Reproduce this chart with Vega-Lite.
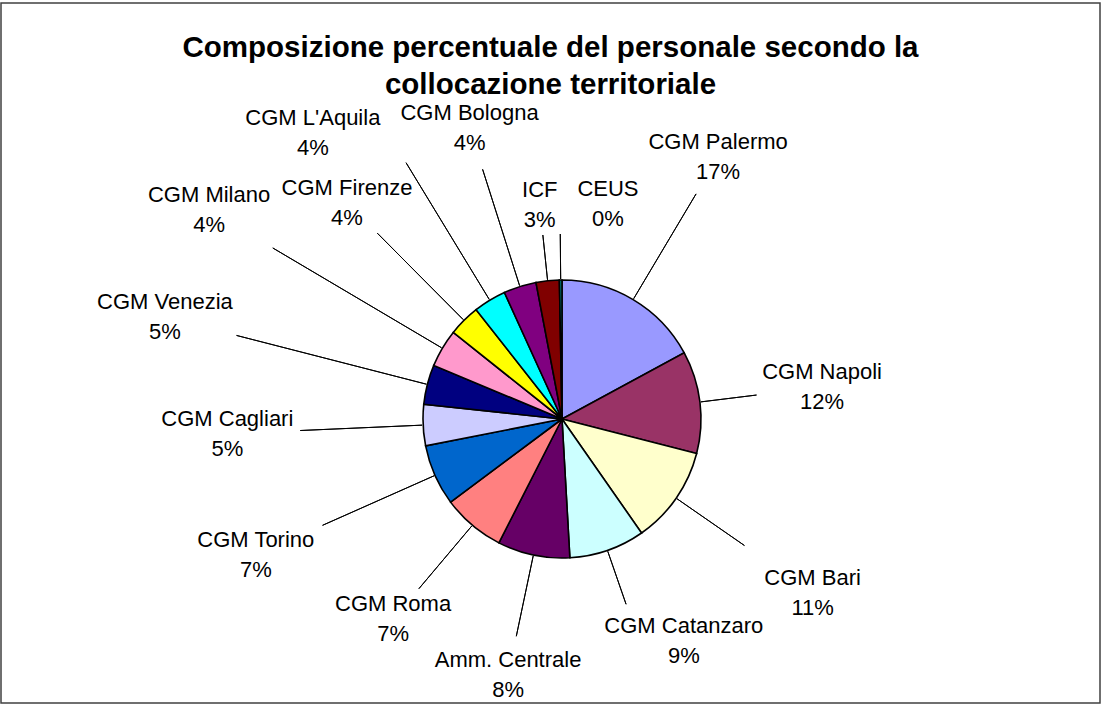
{
  "$schema": "https://vega.github.io/schema/vega-lite/v6.json",
  "width": 1099,
  "height": 700,
  "autosize": "none",
  "padding": {"left": 1, "top": 3, "right": 1, "bottom": 1},
  "background": "white",
  "view": {"stroke": "#404040", "strokeWidth": 1.5, "fill": "white"},
  "config": {
    "view": {"stroke": "#404040", "strokeWidth": 1.5},
    "font": "Liberation Sans"
  },
  "title": {
    "text": ["Composizione percentuale del personale secondo la", "collocazione territoriale"],
    "font": "Liberation Sans",
    "fontSize": 29.5,
    "fontWeight": "bold",
    "color": "black",
    "anchor": "middle",
    "lineHeight": 37,
    "baseline": "alphabetic",
    "offset": -52,
    "dy": 88
  },
  "datasets": {
    "slices": [
      {"idx": 0, "name": "CGM Palermo", "value": 0.171},
      {"idx": 1, "name": "CGM Napoli", "value": 0.119},
      {"idx": 2, "name": "CGM Bari", "value": 0.113},
      {"idx": 3, "name": "CGM Catanzaro", "value": 0.088},
      {"idx": 4, "name": "Amm. Centrale", "value": 0.084},
      {"idx": 5, "name": "CGM Roma", "value": 0.073},
      {"idx": 6, "name": "CGM Torino", "value": 0.071},
      {"idx": 7, "name": "CGM Cagliari", "value": 0.048},
      {"idx": 8, "name": "CGM Venezia", "value": 0.046},
      {"idx": 9, "name": "CGM Milano", "value": 0.044},
      {"idx": 10, "name": "CGM Firenze", "value": 0.037},
      {"idx": 11, "name": "CGM L'Aquila", "value": 0.038},
      {"idx": 12, "name": "CGM Bologna", "value": 0.038},
      {"idx": 13, "name": "ICF", "value": 0.027},
      {"idx": 14, "name": "CEUS", "value": 0.003}
    ],
    "leaders": [
      {"k": 0, "name": "CGM Palermo", "part": "h", "v": 0.0855},
      {"k": 1, "name": "CGM Palermo", "part": "m", "v": 0},
      {"k": 2, "name": "CGM Palermo", "part": "h", "v": 0.0855},
      {"k": 3, "name": "CGM Napoli", "part": "h", "v": 0.0595},
      {"k": 4, "name": "CGM Napoli", "part": "m", "v": 0},
      {"k": 5, "name": "CGM Napoli", "part": "h", "v": 0.0595},
      {"k": 6, "name": "CGM Bari", "part": "h", "v": 0.0565},
      {"k": 7, "name": "CGM Bari", "part": "m", "v": 0},
      {"k": 8, "name": "CGM Bari", "part": "h", "v": 0.0565},
      {"k": 9, "name": "CGM Catanzaro", "part": "h", "v": 0.044},
      {"k": 10, "name": "CGM Catanzaro", "part": "m", "v": 0},
      {"k": 11, "name": "CGM Catanzaro", "part": "h", "v": 0.044},
      {"k": 12, "name": "Amm. Centrale", "part": "h", "v": 0.042},
      {"k": 13, "name": "Amm. Centrale", "part": "m", "v": 0},
      {"k": 14, "name": "Amm. Centrale", "part": "h", "v": 0.042},
      {"k": 15, "name": "CGM Roma", "part": "h", "v": 0.0365},
      {"k": 16, "name": "CGM Roma", "part": "m", "v": 0},
      {"k": 17, "name": "CGM Roma", "part": "h", "v": 0.0365},
      {"k": 18, "name": "CGM Torino", "part": "h", "v": 0.0355},
      {"k": 19, "name": "CGM Torino", "part": "m", "v": 0},
      {"k": 20, "name": "CGM Torino", "part": "h", "v": 0.0355},
      {"k": 21, "name": "CGM Cagliari", "part": "h", "v": 0.024},
      {"k": 22, "name": "CGM Cagliari", "part": "m", "v": 0},
      {"k": 23, "name": "CGM Cagliari", "part": "h", "v": 0.024},
      {"k": 24, "name": "CGM Venezia", "part": "h", "v": 0.023},
      {"k": 25, "name": "CGM Venezia", "part": "m", "v": 0},
      {"k": 26, "name": "CGM Venezia", "part": "h", "v": 0.023},
      {"k": 27, "name": "CGM Milano", "part": "h", "v": 0.022},
      {"k": 28, "name": "CGM Milano", "part": "m", "v": 0},
      {"k": 29, "name": "CGM Milano", "part": "h", "v": 0.022},
      {"k": 30, "name": "CGM Firenze", "part": "h", "v": 0.0185},
      {"k": 31, "name": "CGM Firenze", "part": "m", "v": 0},
      {"k": 32, "name": "CGM Firenze", "part": "h", "v": 0.0185},
      {"k": 33, "name": "CGM L'Aquila", "part": "h", "v": 0.019},
      {"k": 34, "name": "CGM L'Aquila", "part": "m", "v": 0},
      {"k": 35, "name": "CGM L'Aquila", "part": "h", "v": 0.019},
      {"k": 36, "name": "CGM Bologna", "part": "h", "v": 0.019},
      {"k": 37, "name": "CGM Bologna", "part": "m", "v": 0},
      {"k": 38, "name": "CGM Bologna", "part": "h", "v": 0.019},
      {"k": 39, "name": "ICF", "part": "h", "v": 0.0135},
      {"k": 40, "name": "ICF", "part": "m", "v": 0},
      {"k": 41, "name": "ICF", "part": "h", "v": 0.0135},
      {"k": 42, "name": "CEUS", "part": "h", "v": 0.0015},
      {"k": 43, "name": "CEUS", "part": "m", "v": 0},
      {"k": 44, "name": "CEUS", "part": "h", "v": 0.0015}
    ]
  },
  "layer": [
    {
      "data": {"name": "slices"},
      "mark": {"type": "arc", "outerRadius": 139, "stroke": "black", "strokeWidth": 1.6, "xOffset": 11.5, "yOffset": 66},
      "encoding": {
        "theta": {"field": "value", "type": "quantitative", "stack": true, "scale": {"domain": [0, 1]}},
        "order": {"field": "idx", "type": "quantitative"},
        "color": {
          "field": "name", "type": "nominal", "legend": null,
          "scale": {
            "domain": ["CGM Palermo", "CGM Napoli", "CGM Bari", "CGM Catanzaro", "Amm. Centrale", "CGM Roma", "CGM Torino", "CGM Cagliari", "CGM Venezia", "CGM Milano", "CGM Firenze", "CGM L'Aquila", "CGM Bologna", "ICF", "CEUS"],
            "range": ["#9999FF", "#993366", "#FFFFCC", "#CCFFFF", "#660066", "#FF8080", "#0066CC", "#CCCCFF", "#000080", "#FF99CC", "#FFFF00", "#00FFFF", "#800080", "#800000", "#008080"]
          }
        }
      }
    },
    {
      "data": {"name": "leaders"},
      "mark": {"type": "arc", "innerRadius": 140, "outerRadius": 185, "filled": false, "color": "black", "strokeWidth": 1, "xOffset": 11.5, "yOffset": 66},
      "encoding": {
        "theta": {"field": "v", "type": "quantitative", "stack": true, "scale": {"domain": [0, 1]}},
        "order": {"field": "k", "type": "quantitative"},
        "detail": {"field": "k", "type": "nominal"},
        "strokeOpacity": {"condition": {"test": "datum.part === 'm' && indexof([\"ICF\", \"CEUS\"], datum.name) >= 0", "value": 1}, "value": 0}
      }
    },
    {
      "data": {"name": "leaders"},
      "mark": {"type": "arc", "innerRadius": 140, "outerRadius": 196, "filled": false, "color": "black", "strokeWidth": 1, "xOffset": 11.5, "yOffset": 66},
      "encoding": {
        "theta": {"field": "v", "type": "quantitative", "stack": true, "scale": {"domain": [0, 1]}},
        "order": {"field": "k", "type": "quantitative"},
        "detail": {"field": "k", "type": "nominal"},
        "strokeOpacity": {"condition": {"test": "datum.part === 'm' && indexof([\"CGM Napoli\", \"CGM Catanzaro\"], datum.name) >= 0", "value": 1}, "value": 0}
      }
    },
    {
      "data": {"name": "leaders"},
      "mark": {"type": "arc", "innerRadius": 140, "outerRadius": 222, "filled": false, "color": "black", "strokeWidth": 1, "xOffset": 11.5, "yOffset": 66},
      "encoding": {
        "theta": {"field": "v", "type": "quantitative", "stack": true, "scale": {"domain": [0, 1]}},
        "order": {"field": "k", "type": "quantitative"},
        "detail": {"field": "k", "type": "nominal"},
        "strokeOpacity": {"condition": {"test": "datum.part === 'm' && indexof([\"CGM Bari\", \"Amm. Centrale\", \"CGM Roma\"], datum.name) >= 0", "value": 1}, "value": 0}
      }
    },
    {
      "data": {"name": "leaders"},
      "mark": {"type": "arc", "innerRadius": 140, "outerRadius": 262, "filled": false, "color": "black", "strokeWidth": 1, "xOffset": 11.5, "yOffset": 66},
      "encoding": {
        "theta": {"field": "v", "type": "quantitative", "stack": true, "scale": {"domain": [0, 1]}},
        "order": {"field": "k", "type": "quantitative"},
        "detail": {"field": "k", "type": "nominal"},
        "strokeOpacity": {"condition": {"test": "datum.part === 'm' && indexof([\"CGM Palermo\", \"CGM Torino\", \"CGM Cagliari\", \"CGM Firenze\", \"CGM Bologna\"], datum.name) >= 0", "value": 1}, "value": 0}
      }
    },
    {
      "data": {"name": "leaders"},
      "mark": {"type": "arc", "innerRadius": 140, "outerRadius": 300, "filled": false, "color": "black", "strokeWidth": 1, "xOffset": 11.5, "yOffset": 66},
      "encoding": {
        "theta": {"field": "v", "type": "quantitative", "stack": true, "scale": {"domain": [0, 1]}},
        "order": {"field": "k", "type": "quantitative"},
        "detail": {"field": "k", "type": "nominal"},
        "strokeOpacity": {"condition": {"test": "datum.part === 'm' && indexof([\"CGM L'Aquila\"], datum.name) >= 0", "value": 1}, "value": 0}
      }
    },
    {
      "data": {"name": "leaders"},
      "mark": {"type": "arc", "innerRadius": 140, "outerRadius": 336, "filled": false, "color": "black", "strokeWidth": 1, "xOffset": 11.5, "yOffset": 66},
      "encoding": {
        "theta": {"field": "v", "type": "quantitative", "stack": true, "scale": {"domain": [0, 1]}},
        "order": {"field": "k", "type": "quantitative"},
        "detail": {"field": "k", "type": "nominal"},
        "strokeOpacity": {"condition": {"test": "datum.part === 'm' && indexof([\"CGM Venezia\", \"CGM Milano\"], datum.name) >= 0", "value": 1}, "value": 0}
      }
    },
    {
      "data": {"name": "slices"},
      "mark": {"type": "text", "radius": 215, "dy": -15, "fontSize": 22, "font": "Liberation Sans", "color": "black", "baseline": "middle", "align": "center", "xOffset": 11.5, "yOffset": 66},
      "encoding": {
        "theta": {"field": "value", "type": "quantitative", "stack": true, "scale": {"domain": [0, 1]}},
        "order": {"field": "idx", "type": "quantitative"},
        "detail": {"field": "name", "type": "nominal"},
        "text": {"condition": {"test": "datum.name !== 'ICF'", "value": ""}, "field": "name", "type": "nominal"}
      }
    },
    {
      "data": {"name": "slices"},
      "mark": {"type": "text", "radius": 215, "dy": 15, "fontSize": 22, "font": "Liberation Sans", "color": "black", "baseline": "middle", "align": "center", "xOffset": 11.5, "yOffset": 66},
      "encoding": {
        "theta": {"field": "value", "type": "quantitative", "stack": true, "scale": {"domain": [0, 1]}},
        "order": {"field": "idx", "type": "quantitative"},
        "detail": {"field": "name", "type": "nominal"},
        "text": {"condition": {"test": "datum.name !== 'ICF'", "value": ""}, "field": "value", "type": "quantitative", "format": ".0%"}
      }
    },
    {
      "data": {"name": "slices"},
      "mark": {"type": "text", "radius": 215, "dy": -15, "dx": 48, "fontSize": 22, "font": "Liberation Sans", "color": "black", "baseline": "middle", "align": "center", "xOffset": 11.5, "yOffset": 66},
      "encoding": {
        "theta": {"field": "value", "type": "quantitative", "stack": true, "scale": {"domain": [0, 1]}},
        "order": {"field": "idx", "type": "quantitative"},
        "detail": {"field": "name", "type": "nominal"},
        "text": {"condition": {"test": "datum.name !== 'CEUS'", "value": ""}, "field": "name", "type": "nominal"}
      }
    },
    {
      "data": {"name": "slices"},
      "mark": {"type": "text", "radius": 215, "dy": 15, "dx": 48, "fontSize": 22, "font": "Liberation Sans", "color": "black", "baseline": "middle", "align": "center", "xOffset": 11.5, "yOffset": 66},
      "encoding": {
        "theta": {"field": "value", "type": "quantitative", "stack": true, "scale": {"domain": [0, 1]}},
        "order": {"field": "idx", "type": "quantitative"},
        "detail": {"field": "name", "type": "nominal"},
        "text": {"condition": {"test": "datum.name !== 'CEUS'", "value": ""}, "field": "value", "type": "quantitative", "format": ".0%"}
      }
    },
    {
      "data": {"name": "slices"},
      "mark": {"type": "text", "radius": 235, "dy": -15, "dx": 45, "fontSize": 22, "font": "Liberation Sans", "color": "black", "baseline": "middle", "align": "center", "xOffset": 11.5, "yOffset": 66},
      "encoding": {
        "theta": {"field": "value", "type": "quantitative", "stack": true, "scale": {"domain": [0, 1]}},
        "order": {"field": "idx", "type": "quantitative"},
        "detail": {"field": "name", "type": "nominal"},
        "text": {"condition": {"test": "datum.name !== 'CGM Catanzaro'", "value": ""}, "field": "name", "type": "nominal"}
      }
    },
    {
      "data": {"name": "slices"},
      "mark": {"type": "text", "radius": 235, "dy": 15, "dx": 45, "fontSize": 22, "font": "Liberation Sans", "color": "black", "baseline": "middle", "align": "center", "xOffset": 11.5, "yOffset": 66},
      "encoding": {
        "theta": {"field": "value", "type": "quantitative", "stack": true, "scale": {"domain": [0, 1]}},
        "order": {"field": "idx", "type": "quantitative"},
        "detail": {"field": "name", "type": "nominal"},
        "text": {"condition": {"test": "datum.name !== 'CGM Catanzaro'", "value": ""}, "field": "value", "type": "quantitative", "format": ".0%"}
      }
    },
    {
      "data": {"name": "slices"},
      "mark": {"type": "text", "radius": 262, "dy": -15, "fontSize": 22, "font": "Liberation Sans", "color": "black", "baseline": "middle", "align": "center", "xOffset": 11.5, "yOffset": 66},
      "encoding": {
        "theta": {"field": "value", "type": "quantitative", "stack": true, "scale": {"domain": [0, 1]}},
        "order": {"field": "idx", "type": "quantitative"},
        "detail": {"field": "name", "type": "nominal"},
        "text": {"condition": {"test": "indexof([\"CGM Napoli\", \"Amm. Centrale\", \"CGM Roma\"], datum.name) < 0", "value": ""}, "field": "name", "type": "nominal"}
      }
    },
    {
      "data": {"name": "slices"},
      "mark": {"type": "text", "radius": 262, "dy": 15, "fontSize": 22, "font": "Liberation Sans", "color": "black", "baseline": "middle", "align": "center", "xOffset": 11.5, "yOffset": 66},
      "encoding": {
        "theta": {"field": "value", "type": "quantitative", "stack": true, "scale": {"domain": [0, 1]}},
        "order": {"field": "idx", "type": "quantitative"},
        "detail": {"field": "name", "type": "nominal"},
        "text": {"condition": {"test": "indexof([\"CGM Napoli\", \"Amm. Centrale\", \"CGM Roma\"], datum.name) < 0", "value": ""}, "field": "value", "type": "quantitative", "format": ".0%"}
      }
    },
    {
      "data": {"name": "slices"},
      "mark": {"type": "text", "radius": 305, "dy": -15, "fontSize": 22, "font": "Liberation Sans", "color": "black", "baseline": "middle", "align": "center", "xOffset": 11.5, "yOffset": 66},
      "encoding": {
        "theta": {"field": "value", "type": "quantitative", "stack": true, "scale": {"domain": [0, 1]}},
        "order": {"field": "idx", "type": "quantitative"},
        "detail": {"field": "name", "type": "nominal"},
        "text": {"condition": {"test": "indexof([\"CGM Palermo\", \"CGM Bari\", \"CGM Firenze\", \"CGM Bologna\"], datum.name) < 0", "value": ""}, "field": "name", "type": "nominal"}
      }
    },
    {
      "data": {"name": "slices"},
      "mark": {"type": "text", "radius": 305, "dy": 15, "fontSize": 22, "font": "Liberation Sans", "color": "black", "baseline": "middle", "align": "center", "xOffset": 11.5, "yOffset": 66},
      "encoding": {
        "theta": {"field": "value", "type": "quantitative", "stack": true, "scale": {"domain": [0, 1]}},
        "order": {"field": "idx", "type": "quantitative"},
        "detail": {"field": "name", "type": "nominal"},
        "text": {"condition": {"test": "indexof([\"CGM Palermo\", \"CGM Bari\", \"CGM Firenze\", \"CGM Bologna\"], datum.name) < 0", "value": ""}, "field": "value", "type": "quantitative", "format": ".0%"}
      }
    },
    {
      "data": {"name": "slices"},
      "mark": {"type": "text", "radius": 335, "dy": -15, "fontSize": 22, "font": "Liberation Sans", "color": "black", "baseline": "middle", "align": "center", "xOffset": 11.5, "yOffset": 66},
      "encoding": {
        "theta": {"field": "value", "type": "quantitative", "stack": true, "scale": {"domain": [0, 1]}},
        "order": {"field": "idx", "type": "quantitative"},
        "detail": {"field": "name", "type": "nominal"},
        "text": {"condition": {"test": "indexof([\"CGM Torino\", \"CGM Cagliari\"], datum.name) < 0", "value": ""}, "field": "name", "type": "nominal"}
      }
    },
    {
      "data": {"name": "slices"},
      "mark": {"type": "text", "radius": 335, "dy": 15, "fontSize": 22, "font": "Liberation Sans", "color": "black", "baseline": "middle", "align": "center", "xOffset": 11.5, "yOffset": 66},
      "encoding": {
        "theta": {"field": "value", "type": "quantitative", "stack": true, "scale": {"domain": [0, 1]}},
        "order": {"field": "idx", "type": "quantitative"},
        "detail": {"field": "name", "type": "nominal"},
        "text": {"condition": {"test": "indexof([\"CGM Torino\", \"CGM Cagliari\"], datum.name) < 0", "value": ""}, "field": "value", "type": "quantitative", "format": ".0%"}
      }
    },
    {
      "data": {"name": "slices"},
      "mark": {"type": "text", "radius": 335, "dy": -15, "dx": -75, "fontSize": 22, "font": "Liberation Sans", "color": "black", "baseline": "middle", "align": "center", "xOffset": 11.5, "yOffset": 66},
      "encoding": {
        "theta": {"field": "value", "type": "quantitative", "stack": true, "scale": {"domain": [0, 1]}},
        "order": {"field": "idx", "type": "quantitative"},
        "detail": {"field": "name", "type": "nominal"},
        "text": {"condition": {"test": "datum.name !== \"CGM L'Aquila\"", "value": ""}, "field": "name", "type": "nominal"}
      }
    },
    {
      "data": {"name": "slices"},
      "mark": {"type": "text", "radius": 335, "dy": 15, "dx": -75, "fontSize": 22, "font": "Liberation Sans", "color": "black", "baseline": "middle", "align": "center", "xOffset": 11.5, "yOffset": 66},
      "encoding": {
        "theta": {"field": "value", "type": "quantitative", "stack": true, "scale": {"domain": [0, 1]}},
        "order": {"field": "idx", "type": "quantitative"},
        "detail": {"field": "name", "type": "nominal"},
        "text": {"condition": {"test": "datum.name !== \"CGM L'Aquila\"", "value": ""}, "field": "value", "type": "quantitative", "format": ".0%"}
      }
    },
    {
      "data": {"name": "slices"},
      "mark": {"type": "text", "radius": 410, "dy": -15, "fontSize": 22, "font": "Liberation Sans", "color": "black", "baseline": "middle", "align": "center", "xOffset": 11.5, "yOffset": 66},
      "encoding": {
        "theta": {"field": "value", "type": "quantitative", "stack": true, "scale": {"domain": [0, 1]}},
        "order": {"field": "idx", "type": "quantitative"},
        "detail": {"field": "name", "type": "nominal"},
        "text": {"condition": {"test": "indexof([\"CGM Venezia\", \"CGM Milano\"], datum.name) < 0", "value": ""}, "field": "name", "type": "nominal"}
      }
    },
    {
      "data": {"name": "slices"},
      "mark": {"type": "text", "radius": 410, "dy": 15, "fontSize": 22, "font": "Liberation Sans", "color": "black", "baseline": "middle", "align": "center", "xOffset": 11.5, "yOffset": 66},
      "encoding": {
        "theta": {"field": "value", "type": "quantitative", "stack": true, "scale": {"domain": [0, 1]}},
        "order": {"field": "idx", "type": "quantitative"},
        "detail": {"field": "name", "type": "nominal"},
        "text": {"condition": {"test": "indexof([\"CGM Venezia\", \"CGM Milano\"], datum.name) < 0", "value": ""}, "field": "value", "type": "quantitative", "format": ".0%"}
      }
    }
  ]
}
